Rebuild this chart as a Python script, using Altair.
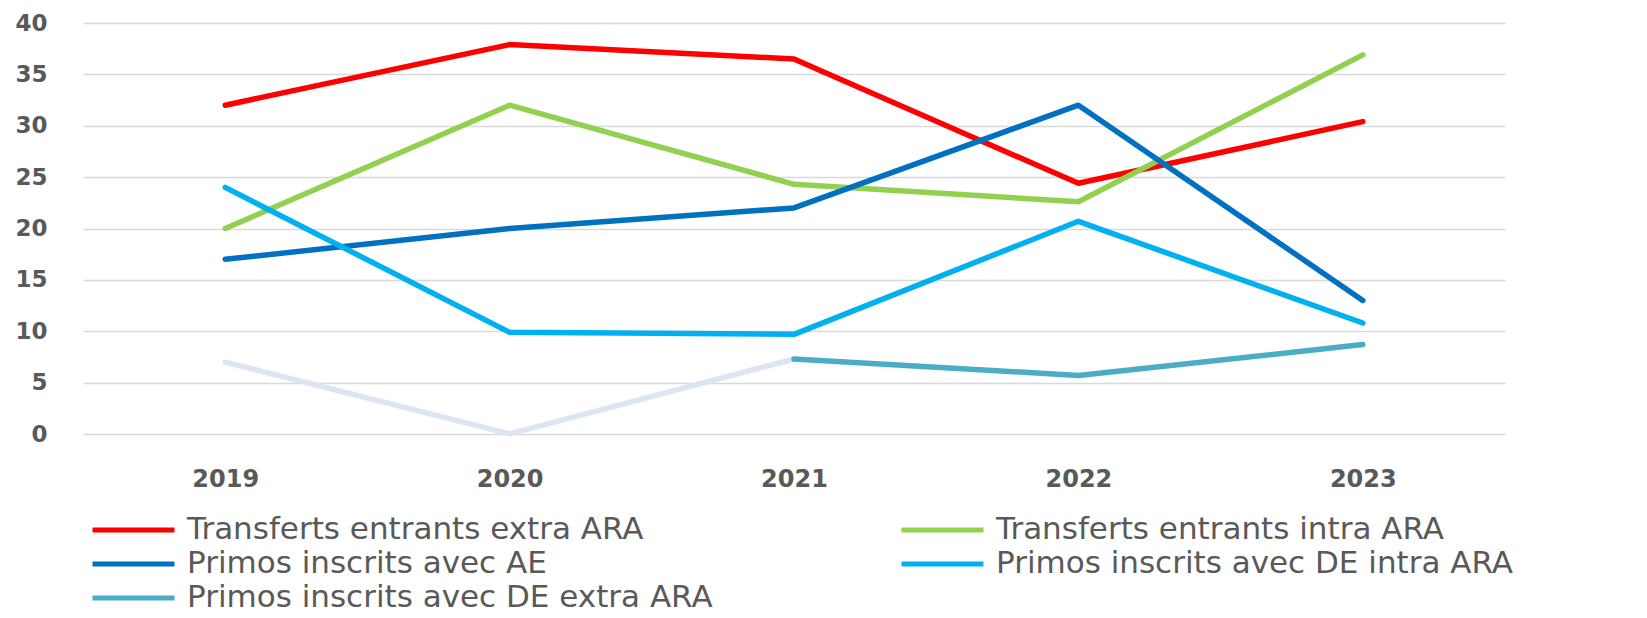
import altair as alt
import pandas as pd

years = ["2019", "2020", "2021", "2022", "2023"]
series = [
    "Transferts entrants extra ARA",
    "Transferts entrants intra ARA",
    "Primos inscrits avec AE",
    "Primos inscrits avec DE intra ARA",
    "Primos inscrits avec DE extra ARA",
]
transferts_extra = [32.0, 37.9, 36.5, 24.4, 30.4]
transferts_intra = [20.0, 32.0, 24.3, 22.6, 36.9]
primos_ae = [17.0, 20.0, 22.0, 32.0, 13.0]
primos_de_intra = [24.0, 9.9, 9.7, 20.7, 10.8]
primos_de_extra = [7.0, 0.0, 7.3, 5.7, 8.7]
colors = ["#FF0000", "#92D050", "#0070C0", "#00B0F0", "#4BACC6"]
faded_color = "#DCE6F2"
faded_years = ["2019", "2020", "2021"]   # part of the last series drawn faded
y_ticks = [0, 5, 10, 15, 20, 25, 30, 35, 40]

# legend is filled column by column: order so that rows read as in the reference
legend_order = [series[0], series[2], series[4], series[1], series[3]]
legend_colors = [colors[series.index(s)] for s in legend_order]

values = [transferts_extra, transferts_intra, primos_ae, primos_de_intra, primos_de_extra]

main_rows = []
faded_rows = []
for s, vals in zip(series, values):
    for yr, v in zip(years, vals):
        if s == series[-1]:
            if yr in faded_years:
                faded_rows.append({"year": yr, "value": v, "series": s})
            if yr >= faded_years[-1]:
                main_rows.append({"year": yr, "value": v, "series": s})
        else:
            main_rows.append({"year": yr, "value": v, "series": s})

main_df = pd.DataFrame(main_rows)
faded_df = pd.DataFrame(faded_rows)

label_color = "#595959"

x_enc = alt.X(
    "year:N",
    sort=years,
    scale=alt.Scale(domain=years, type="point", padding=0.5),
    title=None,
    axis=alt.Axis(
        labelAngle=0,
        labelFont="DejaVu Sans",
        labelFontWeight="bold",
        labelFontSize=24,
        labelColor=label_color,
        labelPadding=33,
        domain=False,
        ticks=False,
        grid=False,
    ),
)
y_enc = alt.Y(
    "value:Q",
    scale=alt.Scale(domain=[0, 40], nice=False),
    title=None,
    axis=alt.Axis(
        values=y_ticks,
        labelFont="DejaVu Sans",
        labelFontWeight="bold",
        labelFontSize=23,
        labelColor=label_color,
        labelPadding=36,
        domain=False,
        ticks=False,
        grid=True,
        gridColor="#D9D9D9",
        gridWidth=1.5,
    ),
)

faded = alt.Chart(faded_df).mark_line(strokeWidth=5.5, strokeCap="round", color=faded_color).encode(
    x=x_enc,
    y=y_enc,
    detail="series:N",
)

lines = alt.Chart(main_df).mark_line(strokeWidth=5.5, strokeCap="round", strokeJoin="round").encode(
    x=x_enc,
    y=y_enc,
    color=alt.Color(
        "series:N",
        sort=legend_order,
        scale=alt.Scale(domain=legend_order, range=legend_colors),
        title=None,
        legend=alt.Legend(
            orient="none",
            legendX=7,
            legendY=490,
            columns=2,
            columnPadding=186,
            rowPadding=0,
            clipHeight=34,
            padding=0,
            labelFont="DejaVu Sans",
            labelFontSize=31,
            labelColor=label_color,
            labelOffset=10,
            labelLimit=900,
            symbolType="stroke",
            symbolSize=6724,
            symbolStrokeWidth=5,
        ),
    ),
    order=alt.Order("series:N"),
)

chart = (
    alt.layer(faded, lines)
    .properties(
        width=1422,
        height=411,
        autosize=alt.AutoSizeParams(type="none"),
        padding={"left": 75, "top": 15, "right": 134, "bottom": 176},
    )
    .configure_view(stroke=None)
)

chart.save("out.html", embed_options={"renderer": "svg", "actions": False})
